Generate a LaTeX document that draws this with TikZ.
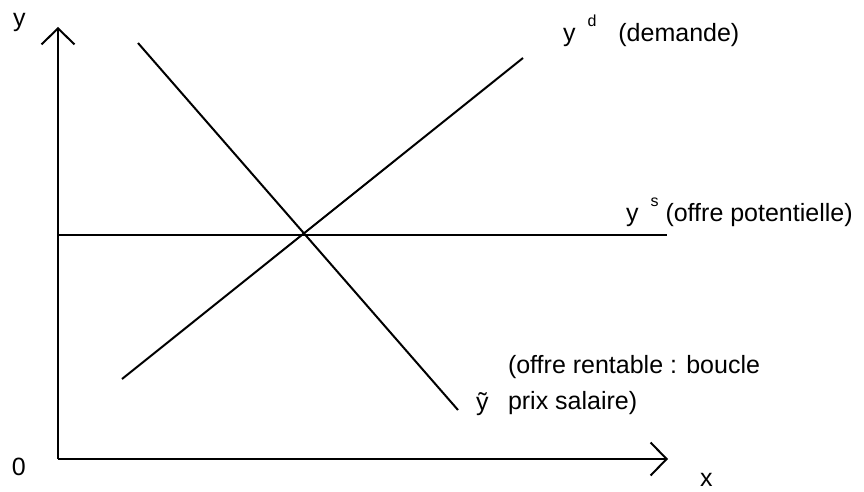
\documentclass[tikz,border=0pt]{standalone}
\usepackage{fontspec}
\setmainfont{Liberation Sans}
\usetikzlibrary{arrows.meta}
\tikzset{
  every picture/.style={line width=2pt},
  axis/.style={-{Straight Barb[length=16pt, width=33pt]}},
  curve/.style={draw=black},
  lbl/.style={font=\fontsize{25}{30}\selectfont, inner sep=0pt, anchor=base west},
}
\newcommand{\supl}[1]{\raisebox{15pt}{\fontsize{16}{18}\selectfont #1}}

\begin{document}
\begin{tikzpicture}[x=1pt, y=-1pt]
  \useasboundingbox (0,0) rectangle (864,492);
  \coordinate (o) at (58,459);
  \coordinate (ytop) at (58,27);
  \coordinate (xend) at (668,459);
  \draw[axis] (o) -- (ytop);
  \draw[axis] (o) -- (xend);
  \node[lbl] (ylab) at (12,27) {y};
  \node[lbl] (zero) at (11,475) {0};
  \node[lbl] (xlab) at (699,486) {x};
  \coordinate (d0) at (122,379);
  \coordinate (d1) at (523,58);
  \coordinate (r0) at (138,43);
  \coordinate (r1) at (458,410);
  \coordinate (s0) at (58,235);
  \coordinate (s1) at (667,235);
  \draw[curve] (d0) -- (d1);
  \draw[curve] (r0) -- (r1);
  \draw[curve] (s0) -- (s1);
  \node[lbl] (dem) at (562,42) {y\hspace{12pt}\supl{d}\hspace{22pt}(demande)};
  \node[lbl] (pot) at (625,221) {y\hspace{12pt}\supl{s}\hspace{7pt}(offre potentielle)};
  \node[lbl] (ytil) at (475,410) {ỹ};
  \node[lbl] (sal) at (507,409) {prix salaire)};
  \node[lbl] (rent) at ([yshift=36pt]sal.base west) {(offre rentable : boucle};
\end{tikzpicture}
\end{document}
